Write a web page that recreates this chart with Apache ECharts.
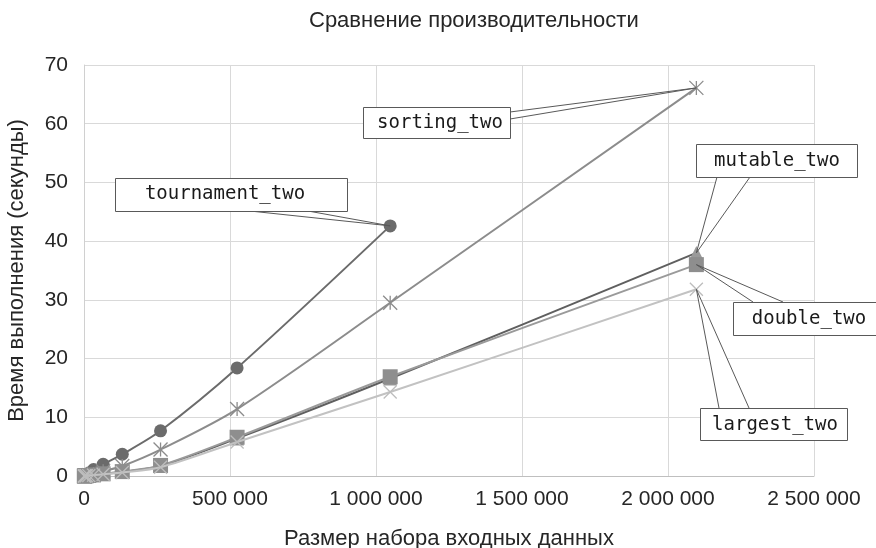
<!DOCTYPE html>
<html>
<head>
<meta charset="utf-8">
<script src="https://cdn.jsdelivr.net/npm/echarts@6/dist/echarts.min.js"></script>
<style>
html,body{margin:0;padding:0;background:#fff;}
#chart{width:876px;height:548px;}
</style>
</head>
<body>
<div id="chart"></div>
<script>
// ---- data ----
const sizes = [1024, 2048, 4096, 8192, 16384, 32768, 65536, 131072, 262144, 524288, 1048576, 2097152];
const tournamentTwo = [0.02, 0.05, 0.1, 0.25, 0.5, 1.1, 2.0, 3.7, 7.7, 18.4, 42.6];
const sortingTwo = [0.005, 0.01, 0.03, 0.07, 0.15, 0.35, 0.8, 1.7, 4.5, 11.4, 29.5, 66.1];
const mutableTwo = [0.004, 0.008, 0.02, 0.04, 0.08, 0.17, 0.35, 0.7, 1.7, 6.4, 16.6, 38.0];
const doubleTwo = [0.004, 0.008, 0.02, 0.04, 0.08, 0.18, 0.37, 0.75, 1.8, 6.6, 16.9, 36.0];
const largestTwo = [0.003, 0.006, 0.015, 0.03, 0.07, 0.15, 0.3, 0.6, 1.5, 5.8, 14.3, 31.8];
const seriesNames = ['tournament_two', 'sorting_two', 'mutable_two', 'double_two', 'largest_two'];
const xTickLabels = ['0', '500 000', '1 000 000', '1 500 000', '2 000 000', '2 500 000'];
const yTickLabels = ['0', '10', '20', '30', '40', '50', '60', '70'];

const allValues = [tournamentTwo, sortingTwo, mutableTwo, doubleTwo, largestTwo];
const pairs = vals => vals.map((v, i) => [sizes[i], v]);

const chart = echarts.init(document.getElementById('chart'), null, {renderer: 'canvas'});
const sansFont = '"Liberation Sans", Arial, sans-serif';
const monoFont = '"DejaVu Sans Mono", "Liberation Mono", monospace';

const asterisk = 'path://M0,0L10,10M10,0L0,10M5,0L5,10';
const cross = 'path://M0,0L10,10M10,0L0,10';

const styles = [
  {line: '#6b6b6b', symbol: 'circle', size: 13, item: {color: '#6b6b6b'}},
  {line: '#8c8c8c', symbol: asterisk, size: 14, item: {color: 'transparent', borderColor: '#8c8c8c', borderWidth: 1.3}},
  {line: '#5f5f5f', symbol: 'triangle', size: 14, item: {color: '#9a9a9a'}},
  {line: '#9a9a9a', symbol: 'rect', size: 15, item: {color: '#8e8e8e'}},
  {line: '#c2c2c2', symbol: cross, size: 13, item: {color: 'transparent', borderColor: '#bdbdbd', borderWidth: 1.3}}
];

const series = allValues.map((vals, i) => ({
  name: seriesNames[i],
  type: 'line',
  data: pairs(vals),
  smooth: 0.3,
  symbol: styles[i].symbol,
  symbolSize: styles[i].size,
  lineStyle: {color: styles[i].line, width: 2},
  itemStyle: styles[i].item,
  z: 2 + i
}));

chart.setOption({
  animation: false,
  backgroundColor: '#fff',
  title: {
    text: 'Сравнение производительности',
    left: 304, top: 5,
    textStyle: {fontFamily: sansFont, fontSize: 22, fontWeight: 'normal', color: '#262626'}
  },
  grid: {left: 84, right: 62, top: 65, bottom: 72, containLabel: false, outerBoundsMode: 'none'},
  xAxis: {
    type: 'value', min: 0, max: 2500000, interval: 500000,
    name: 'Размер набора входных данных',
    nameLocation: 'middle', nameGap: 52,
    nameTextStyle: {fontFamily: sansFont, fontSize: 22, color: '#262626'},
    axisLine: {show: true, lineStyle: {color: '#bfbfbf', width: 1}},
    axisTick: {show: false},
    axisLabel: {
      fontFamily: sansFont, fontSize: 21, color: '#262626', margin: 13,
      formatter: v => xTickLabels[Math.round(v / 500000)]
    },
    splitLine: {show: true, lineStyle: {color: '#d9d9d9', width: 1}}
  },
  yAxis: {
    type: 'value', min: 0, max: 70, interval: 10,
    name: 'Время выполнения (секунды)',
    nameLocation: 'middle', nameGap: 56,
    nameTextStyle: {fontFamily: sansFont, fontSize: 22, color: '#262626'},
    axisLine: {show: true, lineStyle: {color: '#d0d0d0', width: 1}},
    axisTick: {show: false},
    axisLabel: {
      fontFamily: sansFont, fontSize: 21, color: '#262626', margin: 16,
      formatter: v => yTickLabels[Math.round(v / 10)]
    },
    splitLine: {show: true, lineStyle: {color: '#d9d9d9', width: 1}}
  },
  series: series
});

// ---- callouts (label layout, anchored to last data point of each series) ----
const callouts = [
  {s: 0, box: [115, 178, 232, 33], text: [225, 194], base: [[250, 211], [308, 211]]},
  {s: 1, box: [363, 107, 147, 31], text: [440, 123], base: [[510, 112], [510, 119]]},
  {s: 2, box: [696, 144, 161, 33], text: [777, 161], base: [[717, 177], [750, 177]]},
  {s: 3, box: [733, 302, 160, 33], text: [809, 319], base: [[753, 302], [783, 302]]},
  {s: 4, box: [700, 408, 147, 32], text: [775, 425], base: [[719, 408], [749, 408]]}
];

const graphics = [];
callouts.forEach(c => {
  const vals = allValues[c.s];
  const last = vals.length - 1;
  const p = chart.convertToPixel({gridIndex: 0}, [sizes[last], vals[last]]);
  graphics.push({type: 'polygon', shape: {points: [c.base[0], c.base[1], p]}, style: {fill: '#ffffff'}, z: 1, silent: true});
  graphics.push({type: 'polyline', shape: {points: [c.base[0], p, c.base[1]]}, style: {stroke: '#595959', lineWidth: 1, fill: null}, z: 20, silent: true});
  graphics.push({type: 'rect', shape: {x: c.box[0] + 0.5, y: c.box[1] + 0.5, width: c.box[2], height: c.box[3]}, style: {fill: '#ffffff', stroke: '#595959', lineWidth: 1}, z: 21, silent: true});
  graphics.push({type: 'text', x: c.text[0], y: c.text[1], style: {text: seriesNames[c.s], fontFamily: monoFont, fontSize: 19, fill: '#1a1a1a', align: 'center', verticalAlign: 'middle'}, z: 22, silent: true});
});
chart.setOption({graphic: graphics});
</script>
</body>
</html>
